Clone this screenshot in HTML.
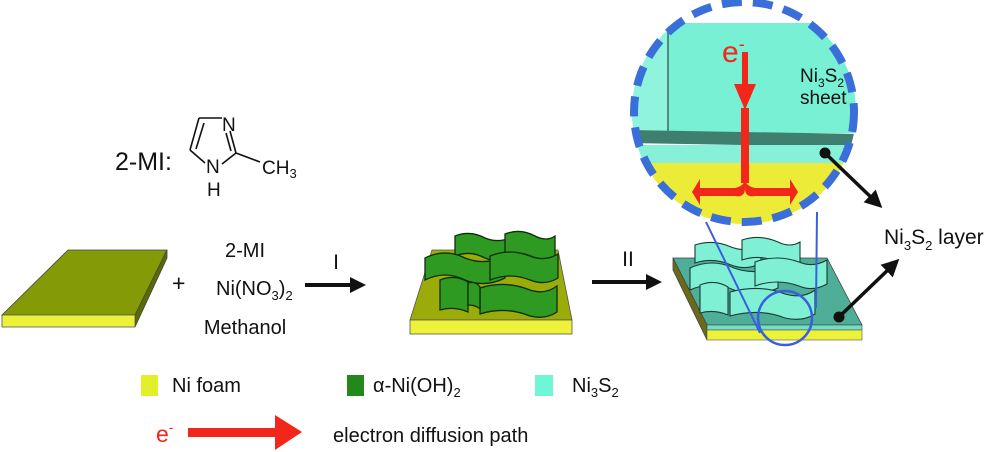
<!DOCTYPE html>
<html><head><meta charset="utf-8"><style>
html,body{margin:0;padding:0;background:#fff;}
svg{display:block;font-family:"Liberation Sans",Arial,sans-serif;}
</style></head><body>
<svg width="1000" height="452" viewBox="0 0 1000 452" xmlns="http://www.w3.org/2000/svg">
<defs>
<marker id="ah" markerWidth="4" markerHeight="4" refX="2" refY="2" orient="auto" markerUnits="strokeWidth"><path d="M0,0 L4,2 L0,4 z" fill="#111"/></marker>
<marker id="ah2" markerWidth="5" markerHeight="5" refX="2.5" refY="2.5" orient="auto" markerUnits="strokeWidth"><path d="M0,0 L5,2.5 L0,5 z" fill="#111"/></marker>
<clipPath id="cc"><circle cx="744" cy="112" r="112"/></clipPath>
</defs>

<!-- 2-MI molecule -->
<text x="115" y="170" font-size="25" fill="#111">2-MI:</text>
<g stroke="#111" stroke-width="1.6" fill="none">
<line x1="199" y1="118" x2="222" y2="118"/>
<line x1="199" y1="118" x2="190" y2="150"/>
<line x1="204" y1="123" x2="196" y2="149"/>
<line x1="190" y1="150" x2="205" y2="163"/>
<line x1="222" y1="164" x2="236" y2="153"/>
<line x1="236" y1="153" x2="230" y2="131"/>
<line x1="231" y1="151" x2="226" y2="133"/>
<line x1="236" y1="153" x2="260" y2="162"/>
</g>
<text x="222" y="131" font-size="19" fill="#111">N</text>
<text x="206" y="173" font-size="19" fill="#111">N</text>
<text x="207" y="196" font-size="19" fill="#111">H</text>
<text x="262" y="174" font-size="19" fill="#111">CH<tspan font-size="13" dy="4">3</tspan></text>

<!-- plate 1 -->
<polygon points="68,250 167,250 135,315 2,315" fill="#849a06" stroke="#444" stroke-width="0.8"/>
<polygon points="135,315 167,250 167,258 135,327" fill="#5b6a05" stroke="#444" stroke-width="0.8"/>
<rect x="2" y="315" width="133" height="12" fill="#ecf23a" stroke="#555" stroke-width="0.8"/>
<text x="172" y="291" font-size="23" fill="#111">+</text>
<text x="245" y="257" font-size="20" fill="#111" text-anchor="middle">2-MI</text>
<text x="216" y="295" font-size="20" fill="#111">Ni(NO<tspan font-size="13" dy="5">3</tspan><tspan dy="-5">)</tspan><tspan font-size="13" dy="5">2</tspan></text>
<text x="245" y="334" font-size="20" fill="#111" text-anchor="middle">Methanol</text>

<!-- arrow I -->
<line x1="305" y1="285" x2="358" y2="285" stroke="#111" stroke-width="4" marker-end="url(#ah)"/>
<text x="336" y="269" font-size="21" fill="#111" text-anchor="middle">I</text>

<!-- plate 2 -->
<polygon points="432,250 558,250 572,320 410,320" fill="#9aab0a" stroke="#555" stroke-width="0.8"/>
<rect x="410" y="320" width="162" height="14" fill="#eef23a" stroke="#555" stroke-width="0.8"/>
<g fill="#2e9a22" stroke="#0e2e0a" stroke-width="1.3">
<path d="M455,236 q15,-6 30,2 q14,6 30,-2 l0,20 q-16,8 -30,2 q-15,-8 -30,-2 z"/>
<path d="M505,234 q15,-6 30,2 q12,6 20,0 l0,22 q-8,6 -20,0 q-15,-8 -30,-2 z"/>
<path d="M425,258 q20,-10 40,0 q20,8 40,-2 l0,22 q-20,10 -40,2 q-20,-10 -40,0 z"/>
<path d="M490,256 q20,-8 40,0 q15,6 28,-2 l0,24 q-13,8 -28,2 q-20,-8 -40,0 z"/>
<path d="M440,280 q15,-6 28,2 l0,30 q-14,-6 -28,-2 z"/>
<path d="M480,288 q25,-8 50,2 q15,5 27,-4 l0,26 q-12,8 -27,4 q-25,-10 -50,-2 z"/>
<path d="M468,283 q8,-2 12,4 l0,22 q-4,-4 -12,-4 z"/>
</g>

<!-- arrow II -->
<line x1="592" y1="282" x2="654" y2="282" stroke="#111" stroke-width="4" marker-end="url(#ah)"/>
<text x="628" y="266" font-size="21" fill="#111" text-anchor="middle">II</text>

<!-- plate 3 -->
<polygon points="673,258 827,258 862,325 707,325" fill="#4fae98" stroke="#444" stroke-width="0.8"/>
<polygon points="673,258 707,325 707,340 673,270" fill="#6b6a1a" stroke="#444" stroke-width="0.8"/>
<rect x="707" y="325" width="155" height="5" fill="#6fe0c6" stroke="#444" stroke-width="0.6"/>
<rect x="707" y="330" width="155" height="10" fill="#ecf23a" stroke="#555" stroke-width="0.6"/>
<g fill="#7ff0d4" stroke="#1c3a33" stroke-width="1.1">
<path d="M695,245 q18,-6 36,2 q16,6 30,-2 l0,18 q-14,8 -30,2 q-18,-8 -36,-2 z"/>
<path d="M742,240 q18,-6 36,2 q12,6 22,0 l0,20 q-10,6 -22,0 q-18,-8 -36,-2 z"/>
<path d="M690,268 q22,-10 44,0 q22,8 44,-2 l0,22 q-22,10 -44,2 q-22,-10 -44,0 z"/>
<path d="M755,262 q22,-8 44,0 q14,6 28,-2 l0,24 q-14,8 -28,2 q-22,-8 -44,0 z"/>
<path d="M730,292 q30,-8 55,2 q18,5 30,-4 l0,24 q-12,8 -30,4 q-25,-10 -55,-2 z"/>
<path d="M700,285 q15,-6 28,2 l0,28 q-14,-6 -28,-2 z"/>
</g>

<!-- magnified circle -->
<g clip-path="url(#cc)">
<rect x="630" y="0" width="230" height="230" fill="#ffffff"/>
<rect x="630" y="23" width="230" height="110" fill="#78f0d4"/>
<rect x="630" y="23" width="38" height="110" fill="#8ff3dd"/>
<line x1="668" y1="23" x2="668" y2="132" stroke="#3d6b60" stroke-width="1.5"/>
<polygon points="630,130 860,134 860,147 630,143" fill="#3f7f6f"/>
<rect x="630" y="145" width="230" height="18" fill="#86f1d8"/>
<rect x="630" y="163" width="230" height="70" fill="#ecec38"/>
</g>
<circle cx="744" cy="112" r="110" fill="none" stroke="#3a6ed8" stroke-width="8" stroke-dasharray="20 11"/>
<!-- red arrows -->
<polygon points="742,52 748,52 748,84 756,84 745,110 734,84 742,84" fill="#f2261a"/>
<rect x="741" y="108" width="8" height="75" fill="#f2261a"/>
<path d="M745,178 q0,8 -10,10 l-35,0 l0,-9 l-8,13 l8,13 l0,-9 l35,0 q10,2 10,-8 q0,10 10,8 l35,0 l0,9 l8,-13 l-8,-13 l0,9 l-35,0 q-10,-2 -10,-10z" fill="#f2261a"/>
<text x="722" y="62" font-size="30" fill="#f2261a">e<tspan font-size="18" dy="-12">-</tspan></text>
<text x="800" y="82" font-size="19" fill="#111">Ni<tspan font-size="12" dy="5">3</tspan><tspan dy="-5">S</tspan><tspan font-size="12" dy="5">2</tspan></text>
<text x="800" y="104" font-size="19" fill="#111">sheet</text>

<!-- blue zoom lines -->
<line x1="706" y1="222" x2="760" y2="333" stroke="#3a5ee0" stroke-width="2"/>
<line x1="817" y1="212" x2="816" y2="308" stroke="#3a5ee0" stroke-width="2"/>
<circle cx="785" cy="318" r="27" fill="none" stroke="#3a5ee0" stroke-width="2.5"/>

<!-- black pointer arrows -->
<circle cx="825" cy="153" r="5.5" fill="#111"/>
<line x1="825" y1="153" x2="876" y2="202" stroke="#111" stroke-width="3.5" marker-end="url(#ah2)"/>
<circle cx="839" cy="317" r="5.5" fill="#111"/>
<line x1="839" y1="317" x2="893" y2="265" stroke="#111" stroke-width="3.5" marker-end="url(#ah2)"/>
<text x="884" y="244" font-size="21" fill="#111">Ni<tspan font-size="13" dy="6">3</tspan><tspan dy="-6">S</tspan><tspan font-size="13" dy="6">2</tspan><tspan dy="-6"> layer</tspan></text>

<!-- legend -->
<rect x="141" y="375" width="17" height="21" fill="#e2f02c"/>
<text x="172" y="392" font-size="20" fill="#111">Ni foam</text>
<rect x="347" y="375" width="17" height="21" fill="#22881a"/>
<text x="373" y="392" font-size="20" fill="#111">α-Ni(OH)<tspan font-size="13" dy="5">2</tspan></text>
<rect x="535" y="375" width="18" height="21" fill="#6ff6d4"/>
<text x="572" y="392" font-size="20" fill="#111">Ni<tspan font-size="13" dy="5">3</tspan><tspan dy="-5">S</tspan><tspan font-size="13" dy="5">2</tspan></text>
<text x="156" y="442" font-size="23" fill="#f2261a">e<tspan font-size="14" dy="-10">-</tspan></text>
<polygon points="188,428 275,428 275,415 302,432 275,450 275,437 188,437" fill="#f2261a"/>
<text x="333" y="442" font-size="20" fill="#111">electron diffusion path</text>
</svg>
</body></html>
